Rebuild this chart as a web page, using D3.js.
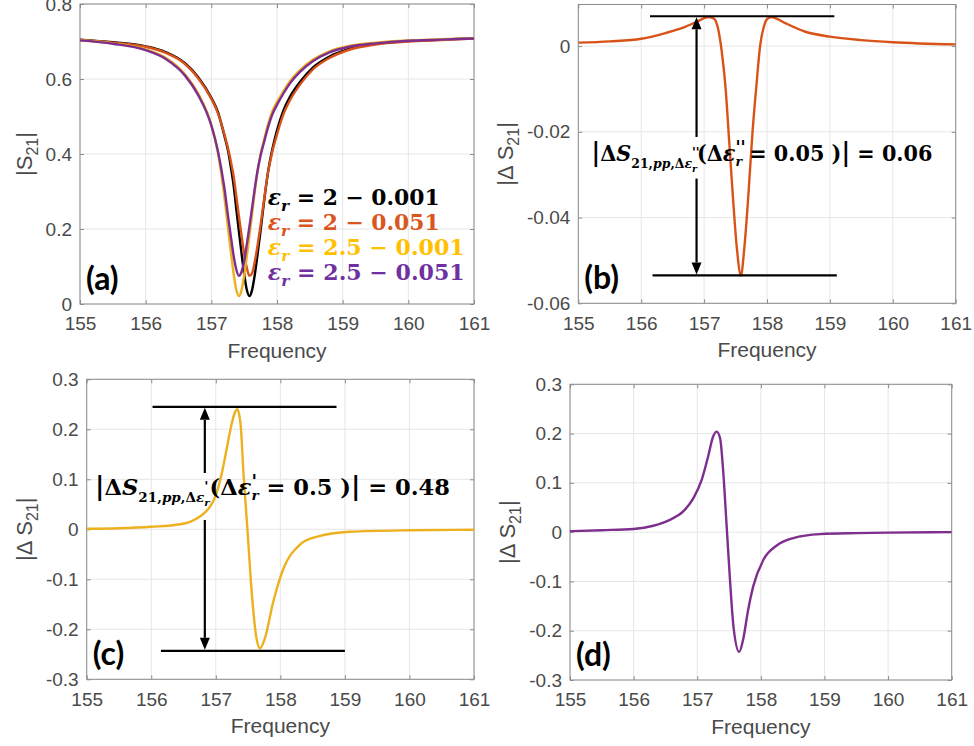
<!DOCTYPE html>
<html>
<head>
<meta charset="utf-8">
<script src="https://cdn.jsdelivr.net/npm/d3@7"></script>
<style>
  body { margin: 0; background: #fff; }
  svg { display: block; }
  text { white-space: pre; }
</style>
</head>
<body>
<svg id="chart" width="974" height="746"></svg>
<script>
// ---- data ----
const freqTicks = [155, 156, 157, 158, 159, 160, 161]

// (a) |S21| for the four permittivities
const freqA = [155, 155.5, 156, 156.3, 156.6, 156.8, 157.0, 157.1, 157.2, 157.26, 157.3, 157.34, 157.38, 157.42, 157.46, 157.5, 157.54, 157.58, 157.62, 157.66, 157.7, 157.75, 157.8, 157.86, 157.93, 158.0, 158.1, 158.2, 158.35, 158.55, 158.8, 159.1, 159.5, 160, 160.5, 161]
const s21Er2Low = [0.705, 0.698, 0.687, 0.672, 0.642, 0.605, 0.550, 0.512, 0.448, 0.404, 0.362, 0.315, 0.254, 0.193, 0.135, 0.080, 0.038, 0.021, 0.037, 0.076, 0.127, 0.196, 0.269, 0.348, 0.413, 0.463, 0.517, 0.553, 0.592, 0.631, 0.660, 0.680, 0.694, 0.701, 0.705, 0.709]
const s21Er2Lossy = [0.704, 0.697, 0.686, 0.670, 0.640, 0.602, 0.547, 0.509, 0.452, 0.411, 0.378, 0.340, 0.288, 0.234, 0.183, 0.134, 0.097, 0.075, 0.082, 0.111, 0.152, 0.211, 0.275, 0.347, 0.407, 0.452, 0.507, 0.544, 0.585, 0.626, 0.656, 0.678, 0.692, 0.700, 0.704, 0.708]
const s21Er25Low = [0.704, 0.695, 0.679, 0.657, 0.612, 0.561, 0.478, 0.404, 0.284, 0.193, 0.135, 0.080, 0.038, 0.021, 0.037, 0.076, 0.127, 0.182, 0.238, 0.298, 0.348, 0.399, 0.435, 0.477, 0.514, 0.539, 0.568, 0.595, 0.624, 0.652, 0.674, 0.688, 0.697, 0.703, 0.706, 0.709]
const s21Er25Lossy = [0.703, 0.694, 0.677, 0.654, 0.609, 0.557, 0.476, 0.408, 0.308, 0.227, 0.177, 0.128, 0.092, 0.075, 0.086, 0.114, 0.159, 0.206, 0.256, 0.306, 0.352, 0.396, 0.430, 0.469, 0.506, 0.531, 0.562, 0.589, 0.619, 0.648, 0.671, 0.686, 0.695, 0.702, 0.705, 0.708]
const legendLabels = ['2 \u2212 0.001', '2 \u2212 0.051', '2.5 \u2212 0.001', '2.5 \u2212 0.051']

// (b) loss change
const freqB = [155, 155.5, 156, 156.4, 156.7, 156.9, 157.0, 157.08, 157.16, 157.22, 157.28, 157.34, 157.4, 157.46, 157.52, 157.585, 157.64, 157.70, 157.77, 157.83, 157.89, 157.95, 158.0, 158.07, 158.15, 158.3, 158.6, 159, 159.5, 160, 161]
const dS21Loss = [0.0008, 0.0011, 0.0017, 0.0031, 0.0045, 0.0058, 0.0065, 0.0068, 0.0064, 0.0042, -0.0012, -0.0095, -0.0225, -0.0356, -0.047, -0.0535, -0.047, -0.0356, -0.020, -0.0095, 0.0000, 0.0045, 0.0063, 0.0068, 0.0064, 0.0053, 0.0034, 0.0022, 0.0014, 0.0009, 0.0004]

// (c) real-part change, low loss
const freqC = [155, 155.5, 156, 156.45, 156.6, 156.76, 156.88, 156.96, 157.03, 157.09, 157.16, 157.22, 157.28, 157.333, 157.385, 157.43, 157.49, 157.556, 157.63, 157.685, 157.76, 157.89, 158.05, 158.3, 158.56, 159.08, 160, 161]
const dS21RealLow = [0.001, 0.002, 0.005, 0.010, 0.015, 0.026, 0.040, 0.056, 0.080, 0.110, 0.155, 0.195, 0.228, 0.240, 0.209, 0.109, 0.0, -0.125, -0.218, -0.238, -0.218, -0.145, -0.078, -0.031, -0.015, -0.005, -0.002, -0.001]

// (d) real-part change, lossy
const freqD = [155, 155.5, 156, 156.31, 156.57, 156.78, 156.94, 157.07, 157.17, 157.25, 157.306, 157.36, 157.41, 157.463, 157.515, 157.57, 157.66, 157.72, 157.80, 157.88, 158.04, 158.25, 158.51, 158.93, 159.5, 160, 161]
const dS21RealLossy = [0.002, 0.004, 0.0065, 0.013, 0.025, 0.042, 0.069, 0.106, 0.153, 0.194, 0.204, 0.190, 0.120, 0.011, -0.097, -0.192, -0.243, -0.219, -0.158, -0.110, -0.056, -0.027, -0.012, -0.004, -0.002, -0.001, 0]

// peak-to-peak markers (data units)
const ppB = { x: 156.88, top: 0.00696, bottom: -0.0535, topSpan: [156.14, 159.07], bottomSpan: [156.18, 159.11], gap: [-0.0212, -0.0309] }
const ppC = { x: 156.83, top: 0.245, bottom: -0.243, topSpan: [156.02, 158.87], bottomSpan: [156.15, 159.0], gap: [0.1126, 0.0186] }

// ---- style ----
const BLACK = '#000000', ORANGE = '#D95319', YELLOW = '#EDB120', PURPLE = '#7E2F8E'
const legendColors = ['#000000', '#D9561E', '#FFC000', '#7030A0']
const GRID = '#e6e6e6', AXIS = '#8c8c8c', TXT = '#4a4a4a'
const SANS = "'Liberation Sans', Arial, sans-serif"
const MATH = "'DejaVu Serif', 'Liberation Serif', serif"

const svg = d3.select('#chart')

const panels = [
    { tag: '(a)', l: 80, r: 474, t: 4, b: 304, y: [0, 0.8], yTicks: [0, 0.2, 0.4, 0.6, 0.8], yTitle: ['|S', '21', '|'], titleX: 32,
      series: [[freqA, s21Er2Low, BLACK], [freqA, s21Er2Lossy, ORANGE], [freqA, s21Er25Low, YELLOW], [freqA, s21Er25Lossy, PURPLE]] },
    { tag: '(b)', l: 578.3, r: 955.7, t: 4.5, b: 303.3, y: [-0.06, 0.0097], yTicks: [-0.06, -0.04, -0.02, 0], yTitle: ['|\u0394 S', '21', '|'], titleX: 513,
      series: [[freqB, dS21Loss, ORANGE]] },
    { tag: '(c)', l: 86.7, r: 474, t: 379.3, b: 679.3, y: [-0.3, 0.3], yTicks: [-0.3, -0.2, -0.1, 0, 0.1, 0.2, 0.3], yTitle: ['|\u0394 S', '21', '|'], titleX: 32,
      series: [[freqC, dS21RealLow, YELLOW]] },
    { tag: '(d)', l: 570, r: 951.7, t: 384.3, b: 680, y: [-0.3, 0.3], yTicks: [-0.3, -0.2, -0.1, 0, 0.1, 0.2, 0.3], yTitle: ['|\u0394 S', '21', '|'], titleX: 515,
      series: [[freqD, dS21RealLossy, PURPLE]] }
]

// formula text built from tspans; squeezed horizontally to the width it has in the figure
function drawMath(g, x, y, size, width, parts, fill) {
    const text = g.append('text')
        .attr('font-family', MATH).attr('font-weight', 'bold')
        .attr('font-size', size).attr('fill', fill)
    let shift = 0, prev = null
    parts.forEach(p => {
        const off = (p.y || 0) * size
        const ts = text.append('tspan').text(p.t)
            .attr('font-size', size * (p.s || 1))
            .attr('font-style', p.i ? 'italic' : 'normal')
            .attr('dy', off - shift)
        if (p.back && prev) ts.attr('dx', -prev.node().getComputedTextLength())
        shift = off
        prev = ts
    })
    const w = text.node().getBBox().width
    text.attr('transform', `translate(${x},${y}) scale(${width / w},1)`)
    return text
}

function drawPanel(p) {
    const x = d3.scaleLinear().domain([155, 161]).range([p.l, p.r])
    const y = d3.scaleLinear().domain(p.y).range([p.b, p.t])
    const g = svg.append('g')
    p.x = x; p.yScale = y; p.g = g

    // grid
    g.append('g').selectAll('line').data(freqTicks).join('line')
        .attr('x1', d => x(d)).attr('x2', d => x(d)).attr('y1', p.t).attr('y2', p.b)
        .attr('stroke', GRID)
    g.append('g').selectAll('line').data(p.yTicks).join('line')
        .attr('y1', d => y(d)).attr('y2', d => y(d)).attr('x1', p.l).attr('x2', p.r)
        .attr('stroke', GRID)

    // axes
    const fmt = d => d === 0 ? '0' : String(d)
    const styleAxis = sel => {
        sel.select('.domain').remove()
        sel.selectAll('.tick line').attr('stroke', AXIS)
        sel.selectAll('.tick text').attr('fill', TXT)
        sel.attr('font-family', SANS).attr('font-size', 19)
    }
    g.append('g').attr('transform', `translate(0,${p.b})`)
        .call(d3.axisBottom(x).tickValues(freqTicks).tickSizeInner(-4).tickSizeOuter(0).tickPadding(13).tickFormat(fmt))
        .call(styleAxis)
    g.append('g').attr('transform', `translate(0,${p.t})`)
        .call(d3.axisTop(x).tickValues(freqTicks).tickSizeInner(-4).tickSizeOuter(0).tickFormat(''))
        .call(styleAxis)
    g.append('g').attr('transform', `translate(${p.l},0)`)
        .call(d3.axisLeft(y).tickValues(p.yTicks).tickSizeInner(-4).tickSizeOuter(0).tickPadding(8).tickFormat(fmt))
        .call(styleAxis)
    g.append('g').attr('transform', `translate(${p.r},0)`)
        .call(d3.axisRight(y).tickValues(p.yTicks).tickSizeInner(-4).tickSizeOuter(0).tickFormat(''))
        .call(styleAxis)

    g.append('rect').attr('x', p.l).attr('y', p.t).attr('width', p.r - p.l).attr('height', p.b - p.t)
        .attr('fill', 'none').attr('stroke', AXIS)

    // titles
    g.append('text').attr('x', (p.l + p.r) / 2).attr('y', p.b + 54)
        .attr('text-anchor', 'middle').attr('font-family', SANS).attr('font-size', 21).attr('fill', TXT)
        .text('Frequency')
    const yt = g.append('text').attr('transform', `translate(${p.titleX},${(p.t + p.b) / 2}) rotate(-90)`)
        .attr('text-anchor', 'middle').attr('font-family', SANS).attr('font-size', 22).attr('fill', TXT)
    yt.append('tspan').text(p.yTitle[0])
    yt.append('tspan').text(p.yTitle[1]).attr('font-size', 16).attr('dy', 6)
    yt.append('tspan').text(p.yTitle[2]).attr('dy', -6)

    // curves
    const clipId = 'clip' + p.tag.replace(/\W/g, '')
    svg.append('clipPath').attr('id', clipId).append('rect')
        .attr('x', p.l).attr('y', p.t).attr('width', p.r - p.l).attr('height', p.b - p.t)
    const line = d3.line().x(d => x(d[0])).y(d => y(d[1])).curve(d3.curveMonotoneX)
    g.append('g').attr('clip-path', `url(#${clipId})`)
        .selectAll('path').data(p.series).join('path')
        .attr('d', s => line(d3.zip(s[0], s[1])))
        .attr('fill', 'none').attr('stroke', s => s[2]).attr('stroke-width', 2.4)
        .attr('stroke-linejoin', 'round')

    // panel tag
    g.append('text').attr('x', p.l + 6).attr('y', p.b - 14)
        .attr('font-family', "Lato, 'Open Sans', sans-serif").attr('font-weight', 'bold')
        .attr('font-size', 32).attr('fill', '#000').text(p.tag)
}

panels.forEach(drawPanel)

// legend in (a)
{
    const p = panels[0]
    const widths = [172, 172, 197, 197]
    legendLabels.forEach((lab, i) => {
        drawMath(p.g, p.x(157.86), p.yScale(0.264) + i * 25, 22, widths[i], [
            { t: '\u03b5', i: true },
            { t: 'r', s: 0.7, y: 0.25, i: true },
            { t: ' = ' + lab }
        ], legendColors[i])
    })
}

// peak-to-peak annotation
function drawPP(p, pp) {
    const x = p.x, y = p.yScale, g = p.g
    g.append('line').attr('x1', x(pp.topSpan[0])).attr('x2', x(pp.topSpan[1]))
        .attr('y1', y(pp.top)).attr('y2', y(pp.top)).attr('stroke', '#000').attr('stroke-width', 2.2)
    g.append('line').attr('x1', x(pp.bottomSpan[0])).attr('x2', x(pp.bottomSpan[1]))
        .attr('y1', y(pp.bottom)).attr('y2', y(pp.bottom)).attr('stroke', '#000').attr('stroke-width', 2.2)
    const ax = x(pp.x), yTop = y(pp.top) + 1, yBot = y(pp.bottom) - 1, head = 12
    g.append('line').attr('x1', ax).attr('x2', ax).attr('y1', yTop + head).attr('y2', y(pp.gap[0]))
        .attr('stroke', '#000').attr('stroke-width', 2.2)
    g.append('line').attr('x1', ax).attr('x2', ax).attr('y1', y(pp.gap[1])).attr('y2', yBot - head)
        .attr('stroke', '#000').attr('stroke-width', 2.2)
    g.append('path').attr('d', `M${ax},${yTop}L${ax - 5},${yTop + head}L${ax + 5},${yTop + head}Z`).attr('fill', '#000')
    g.append('path').attr('d', `M${ax},${yBot}L${ax - 5},${yBot - head}L${ax + 5},${yBot - head}Z`).attr('fill', '#000')
}
drawPP(panels[1], ppB)
drawPP(panels[2], ppC)

function ppParts(prime, dv, pp) {
    return [
        { t: '|', s: 1.15 }, { t: '\u0394' }, { t: 'S', i: true },
        { t: '21,', s: 0.6, y: 0.3 }, { t: 'pp', s: 0.6, y: 0.3, i: true }, { t: ',\u0394', s: 0.6, y: 0.3 },
        { t: '\u03b5', s: 0.6, y: 0.3, i: true }, { t: prime, s: 0.6, y: -0.2, i: true },
        { t: 'r', s: 0.45, y: 0.5, i: true, back: true },
        { t: '(\u0394' }, { t: '\u03b5', i: true }, { t: prime, s: 0.8, y: -0.32, i: true },
        { t: 'r', s: 0.6, y: 0.22, i: true, back: true },
        { t: ' = ' + dv + ' )' }, { t: '|', s: 1.15 }, { t: ' = ' + pp }
    ]
}
{
    const p = panels[1]
    drawMath(p.g, p.x(155.21), p.yScale(-0.0268), 22, 341, ppParts("''", '0.05', '0.06'), '#000')
}
{
    const p = panels[2]
    drawMath(p.g, p.x(155.13), p.yScale(0.0686), 22, 355, ppParts("'", '0.5', '0.48'), '#000')
}
</script>
</body>
</html>
